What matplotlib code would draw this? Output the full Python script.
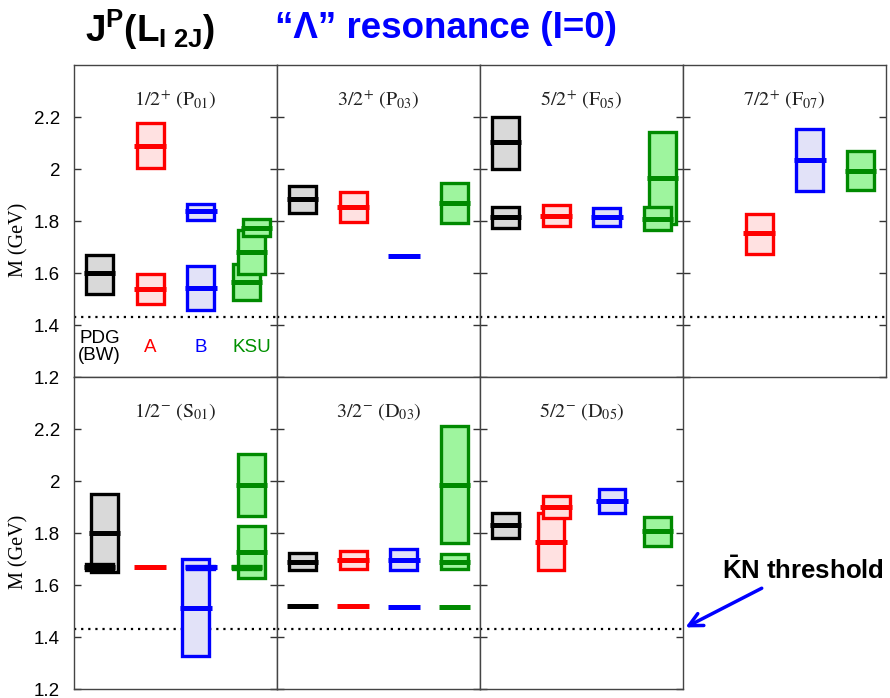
import matplotlib
matplotlib.use('Agg')
import matplotlib.pyplot as plt
from matplotlib.patches import Rectangle

plt.rcParams['font.family'] = ['Liberation Sans', 'DejaVu Sans']
plt.rcParams['mathtext.fontset'] = 'custom'
plt.rcParams['mathtext.rm'] = 'Liberation Sans'
plt.rcParams['mathtext.bf'] = 'Liberation Sans:bold'
plt.rcParams['mathtext.it'] = 'Liberation Sans:italic'

# panel titles (partial waves)
panel_titles = [r'$\mathrm{1/2^{+}\ (P_{01})}$', r'$\mathrm{3/2^{+}\ (P_{03})}$',
                r'$\mathrm{5/2^{+}\ (F_{05})}$', r'$\mathrm{7/2^{+}\ (F_{07})}$',
                r'$\mathrm{1/2^{-}\ (S_{01})}$', r'$\mathrm{3/2^{-}\ (D_{03})}$',
                r'$\mathrm{5/2^{-}\ (D_{05})}$']

source_names = ['PDG\n(BW)', 'A', 'B', 'KSU']
KN_THRESHOLD = 1.432     # GeV

# PDG (Breit-Wigner) - black
pdg_panel = [0, 1, 2, 2, 4, 4, 5, 5, 6]
pdg_slot = [0, 0, 0, 0, 1, 0, 0, 0, 0]
pdg_mass = [1.60, 1.885, 2.105, 1.815, 1.80, 1.67, 1.69, 1.52, 1.83]
pdg_low = [1.52, 1.83, 2.00, 1.772, 1.65, 1.658, 1.656, 1.52, 1.782]
pdg_high = [1.67, 1.935, 2.20, 1.855, 1.95, 1.682, 1.724, 1.52, 1.876]

# solution A - red
a_panel = [0, 0, 1, 2, 3, 4, 5, 5, 6, 6]
a_slot = [0, 0, 0, 0, 0, 0, 0, 0, -1, 0]
a_mass = [2.09, 1.537, 1.854, 1.819, 1.752, 1.669, 1.696, 1.518, 1.767, 1.901]
a_low = [2.005, 1.48, 1.795, 1.78, 1.675, 1.669, 1.662, 1.518, 1.658, 1.859]
a_high = [2.177, 1.595, 1.912, 1.86, 1.826, 1.669, 1.731, 1.518, 1.876, 1.942]

# solution B - blue
b_panel = [0, 0, 1, 2, 3, 4, 4, 5, 5, 6]
b_slot = [0, 0, 0, 0, 0, -1, 0, 0, 0, 1]
b_mass = [1.838, 1.541, 1.664, 1.815, 2.033, 1.513, 1.668, 1.696, 1.517, 1.924]
b_low = [1.805, 1.458, 1.664, 1.781, 1.915, 1.327, 1.662, 1.656, 1.517, 1.876]
b_high = [1.867, 1.626, 1.664, 1.85, 2.155, 1.699, 1.674, 1.737, 1.517, 1.97]

# KSU - green
k_panel = [0, 0, 0, 1, 2, 2, 3, 4, 4, 4, 5, 5, 5, 6]
k_slot = [-1, 0, 1, 0, 1, 0, 0, 0, 0, -1, 0, 0, 0, 0]
k_mass = [1.565, 1.681, 1.774, 1.871, 1.965, 1.809, 1.994, 1.985, 1.728, 1.668,
          1.985, 1.69, 1.517, 1.808]
k_low = [1.495, 1.597, 1.741, 1.794, 1.79, 1.764, 1.918, 1.867, 1.626, 1.662,
         1.76, 1.66, 1.517, 1.751]
k_high = [1.636, 1.767, 1.806, 1.945, 2.142, 1.854, 2.068, 2.104, 1.828, 1.674,
          2.212, 1.718, 1.517, 1.863]

BOX_W = 0.53
LINE_W = 0.62


def draw_source(axes, panel, slot, mass, low, high, col, edge, face):
    # one box (range) + thick line (pole / mass) per entry
    for p, s, m, lo, hi in zip(panel, slot, mass, low, high):
        ax = axes[p]
        x = col + 0.1 * s
        if hi > lo:
            ax.add_patch(Rectangle((x - BOX_W / 2, lo), BOX_W, hi - lo,
                                   facecolor=face, edgecolor=edge, lw=2.4, zorder=2))
        ax.hlines(m, x - LINE_W / 2, x + LINE_W / 2, color=edge, lw=3.6, zorder=3)


fig = plt.figure(figsize=(8.9, 6.98), dpi=100)

W, H = 890.0, 698.0
lefts = [74, 277, 480, 683]
pw = 203
axes = []
for i in range(7):
    row, c = divmod(i, 4)
    top = 65 if row == 0 else 377
    ax = fig.add_axes([lefts[c] / W, 1 - (top + 312) / H, pw / W, 312 / H])
    ax.set_xlim(0, 4)
    ax.set_ylim(1.2, 2.4)
    ax.set_xticks([])
    ax.set_yticks([1.2, 1.4, 1.6, 1.8, 2.0, 2.2])
    ax.tick_params(axis='y', direction='in', left=True, right=True, length=5,
                   width=1, color='#333333', labelsize=13.5, pad=10)
    if c == 0:
        ax.set_yticklabels(['1.2', '1.4', '1.6', '1.8', '2', '2.2'])
        ax.set_ylabel('M (GeV)', family='Liberation Serif', fontsize=14.5)
        ax.yaxis.set_label_coords(-0.225, 0.44)
    else:
        ax.set_yticklabels([])
    for sp in ax.spines.values():
        sp.set_color('#444444')
        sp.set_linewidth(1.0)
    ax.axhline(KN_THRESHOLD, color='black', ls=(0, (1, 2.2)), lw=1.6, zorder=1)
    ax.text(0.5, 0.89, panel_titles[i], transform=ax.transAxes, ha='center', va='center',
            fontsize=14.5, math_fontfamily='stix', color='#222222')
    axes.append(ax)

draw_source(axes, pdg_panel, pdg_slot, pdg_mass, pdg_low, pdg_high, 0.5, 'black', '#d9d9d9')
draw_source(axes, a_panel, a_slot, a_mass, a_low, a_high, 1.5, '#ff0000', '#ffe1e1')
draw_source(axes, b_panel, b_slot, b_mass, b_low, b_high, 2.5, '#0000ff', '#e2e2f8')
draw_source(axes, k_panel, k_slot, k_mass, k_low, k_high, 3.5, '#008a00', '#9ef59e')

# source labels in first panel
src_colors = ['black', '#ff0000', '#0000ff', '#009000']
for j, (name, clr) in enumerate(zip(source_names, src_colors)):
    axes[0].text(j + 0.5, 0.095, name, transform=axes[0].get_xaxis_transform(),
                 ha='center', va='center', color=clr, fontsize=13.5, linespacing=1.0)

# KN threshold annotation
ax7 = axes[6]
ax7.text(1.19, 0.38, r'$\mathbf{\bar{K}N}$ threshold', transform=ax7.transAxes,
         fontsize=18.5, fontweight='bold', ha='left', va='center', clip_on=False)
ax7.annotate('', xy=(4.0, KN_THRESHOLD), xytext=(1.40, 0.327), textcoords='axes fraction',
             arrowprops=dict(arrowstyle='->', color='#0000ff', lw=2.5, mutation_scale=24),
             annotation_clip=False)

# header
fig.text(85 / W, 1 - 30 / H, r'$\mathbf{J^{P}(L_{I\ 2J})}$', fontsize=26.5,
         ha='left', va='center', math_fontfamily='custom')
fig.text(275 / W, 1 - 28 / H, '\u201c\u039b\u201d resonance (I=0)', fontsize=26.5,
         fontweight='bold', color='#0000ff', ha='left', va='center')

fig.savefig('out.png', dpi=100)
